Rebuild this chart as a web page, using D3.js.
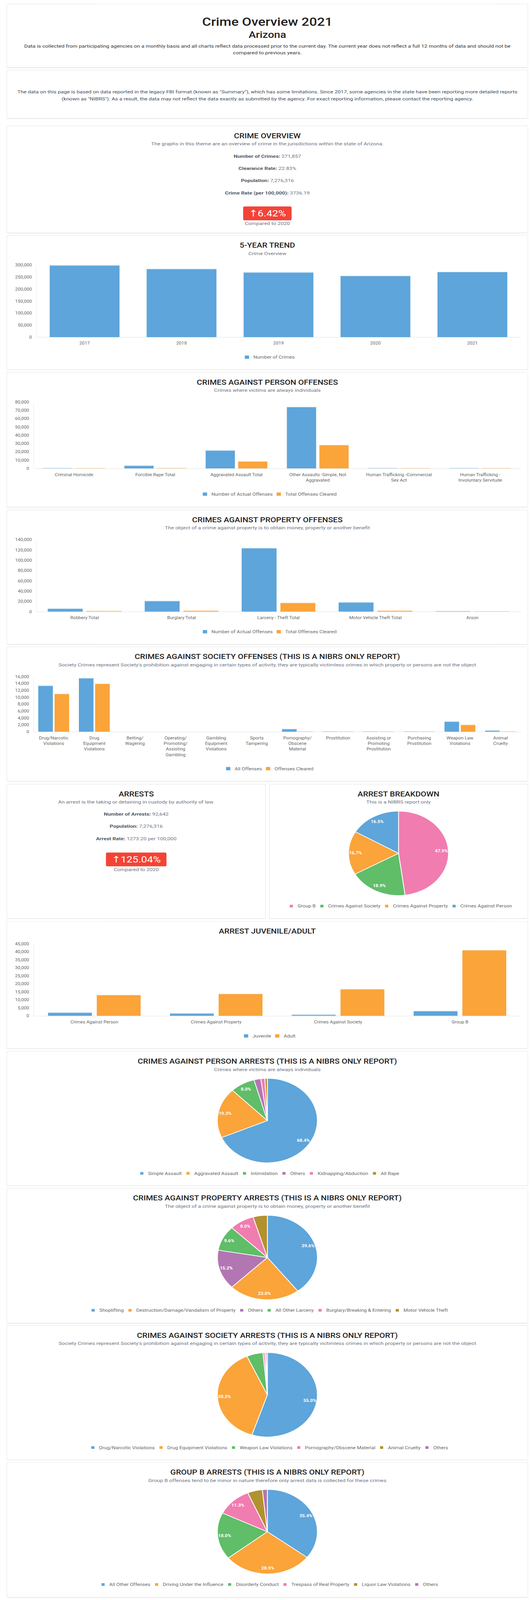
<!DOCTYPE html>
<html><head><meta charset="utf-8">
<script src="https://cdn.jsdelivr.net/npm/d3@7"></script>
<style>
html,body{margin:0;padding:0;background:#fff;overflow:hidden;}
#page{position:relative;width:1362px;height:4849px;overflow:hidden;font-family:Roboto,'Noto Sans','DejaVu Sans',sans-serif;transform-origin:0 0;}
.card{position:absolute;background:#fff;border-radius:2px;box-shadow:0 0 0 1px #e4e4e4,0 1px 2px rgba(0,0,0,0.13);}
.card svg{position:absolute;left:0;top:0;display:block;overflow:visible;}
</style></head><body>
<div id="page"></div>
<script>
// ---------------- DATA ----------------
const trendYears = ["2017","2018","2019","2020","2021"];
const trendCrimes = [299000, 284000, 269600, 255456, 271857];
const trendTicks = [0,50000,100000,150000,200000,250000,300000];

const personCats = [["Criminal Homicide"],["Forcible Rape Total"],["Aggravated Assault Total"],["Other Assaults -Simple, Not","Aggravated"],["Human Trafficking -Commercial","Sex Act"],["Human Trafficking -","Involuntary Servitude"]];
const personActual = [550, 3450, 21700, 74100, 60, 10];
const personCleared = [420, 650, 8600, 28300, 25, 4];
const personTicks = [0,10000,20000,30000,40000,50000,60000,70000,80000];

const propertyCats = [["Robbery Total"],["Burglary Total"],["Larceny - Theft Total"],["Motor Vehicle Theft Total"],["Arson"]];
const propertyActual = [6000, 20700, 123500, 18200, 850];
const propertyCleared = [1500, 2100, 17100, 2100, 350];
const propertyTicks = [0,20000,40000,60000,80000,100000,120000,140000];

const societyCats = [["Drug/Narcotic","Violations"],["Drug","Equipment","Violations"],["Betting/","Wagering"],["Operating/","Promoting/","Assisting","Gambling"],["Gambling","Equipment","Violations"],["Sports","Tampering"],["Pornography/","Obscene","Material"],["Prostitution"],["Assisting or","Promoting","Prostitution"],["Purchasing","Prostitution"],["Weapon Law","Violations"],["Animal","Cruelty"]];
const societyAll = [13350, 15550, 0, 0, 0, 0, 790, 40, 30, 45, 2960, 380];
const societyCleared = [11000, 13950, 0, 0, 0, 0, 130, 20, 15, 25, 2020, 150];
const societyTicks = [0,2000,4000,6000,8000,10000,12000,14000,16000];

const juvCats = [["Crimes Against Person"],["Crimes Against Property"],["Crimes Against Society"],["Group B"]];
const juvenileArrests = [2050, 1550, 750, 3000];
const adultArrests = [13100, 13800, 16700, 41100];
const juvTicks = [0,5000,10000,15000,20000,25000,30000,35000,40000,45000];

const breakdownLabels = ["Group B","Crimes Against Society","Crimes Against Property","Crimes Against Person"];
const breakdownPct = [47.9, 18.9, 16.7, 16.5];

const personArrestLabels = ["Simple Assault","Aggravated Assault","Intimidation","Others","Kidnapping/Abduction","All Rape"];
const personArrestPct = [68.4, 19.3, 8.0, 2.2, 1.3, 0.8];

const propertyArrestLabels = ["Shoplifting","Destruction/Damage/Vandalism of Property","Others","All Other Larceny","Burglary/Breaking & Entering","Motor Vehicle Theft"];
const propertyArrestPct = [39.6, 23.0, 15.2, 9.6, 8.0, 4.6];

const societyArrestLabels = ["Drug/Narcotic Violations","Drug Equipment Violations","Weapon Law Violations","Pornography/Obscene Material","Animal Cruelty","Others"];
const societyArrestPct = [55.0, 38.3, 5.3, 0.6, 0.4, 0.4];

const groupBLabels = ["All Other Offenses","Driving Under the Influence","Disorderly Conduct","Trespass of Real Property","Liquor Law Violations","Others"];
const groupBPct = [35.4, 28.9, 18.0, 11.3, 4.8, 1.6];

// ---------------- STYLE ----------------
const FONT = "Roboto, 'Noto Sans', 'DejaVu Sans', sans-serif";
const COL = {blue:"#5DA5DA", orange:"#FAA43A", green:"#60BD68", pink:"#F17CB0", purple:"#B276B2", olive:"#B2912F"};
const LIGHT = {blue:"#a6cdec", orange:"#fcd09c"};
const TITLE = "#212121", SUB = "#6b7384", AX = "#666";

const page = d3.select("#page");
// the window may be shorter than the 4849px layout: fit the whole page into it
const FULL_H = 4849;
const VIEW_H = (window.innerHeight && window.innerHeight > 1000) ? window.innerHeight : FULL_H;
const KY = Math.min(1, VIEW_H/FULL_H);
page.style("transform",`scaleY(${KY})`);
d3.select("body").style("height",(FULL_H*KY)+"px");

function makeCard(x,y,w,h){
  const div = page.append("div").attr("class","card")
    .style("left",x+"px").style("top",y+"px").style("width",w+"px").style("height",h+"px");
  const s = div.append("svg").attr("width",w).attr("height",h).attr("font-family",FONT);
  return s.append("g").attr("transform",`translate(${-x},${-y})`);
}
function txt(g,x,y,s,size,weight,fill,anchor){
  return g.append("text").attr("x",x).attr("y",y).attr("font-size",size).attr("font-weight",weight||400)
    .attr("fill",fill||"#333").attr("text-anchor",anchor||"middle").text(s);
}
function heading(g,cx,T,title,sub){
  txt(g,cx,T+36.5,title,21,500,TITLE);
  if(sub) txt(g,cx,T+58.5,sub,14,400,SUB);
}
function stat(g,cx,y,label,value){
  const t = g.append("text").attr("x",cx).attr("y",y).attr("text-anchor","middle").attr("font-size",14);
  t.append("tspan").attr("font-weight",700).attr("fill","#4f5864").text(label+":");
  t.append("tspan").attr("fill","#6c757d").text(" "+value);
}
function badge(g,cx,y,w,h,value){
  g.append("rect").attr("x",cx-w/2).attr("y",y).attr("width",w).attr("height",h).attr("rx",4).attr("fill","#f44336");
  txt(g,cx,y+h/2+9.5,"\u2191"+value,27,400,"#fff");
}
function legend(g0,cx,cy,items,box){
  const g = g0.append("g");
  const its = g.selectAll("g").data(items).join("g");
  its.append("rect").attr("x",0).attr("y",cy-box.h/2).attr("width",box.w).attr("height",box.h).attr("fill",d=>d.color);
  its.append("text").attr("x",box.w+box.gap).attr("y",cy+4.6).attr("font-size",13).attr("fill",AX).text(d=>d.name);
  const widths = [];
  its.each(function(){ widths.push(box.w+box.gap+d3.select(this).select("text").node().getComputedTextLength()); });
  const total = d3.sum(widths)+box.itemGap*(widths.length-1);
  let xx = cx-total/2;
  const pos = widths.map(w=>{ const p=xx; xx+=w+box.itemGap; return p; });
  its.attr("transform",(d,i)=>`translate(${pos[i]},0)`);
}
const BAR_BOX = {w:11,h:10,gap:11,itemGap:10};
const PIE_BOX = {w:8,h:8,gap:12,itemGap:12};

function barChart(g0,o){
  const T=o.T, g=g0.append("g");
  const top = T+(o.noSub?67.5:89.5);
  const nLines = d3.max(o.cats,c=>c.length);
  const bottom = T+(o.noSub?285.7:307.7)-(nLines-1)*17;
  const x = d3.scaleBand().domain(d3.range(o.cats.length)).range([o.axisX,1333]).padding(0);
  const bw = x.bandwidth();
  const xs = d3.scaleBand().domain(d3.range(o.series.length)).range([0.1*bw,0.9*bw]).paddingInner(0.1).paddingOuter(0.05);
  const y = d3.scaleLinear().domain([0,d3.max(o.ticks)]).range([bottom,top]);
  const ya = g.append("g").attr("transform",`translate(${o.axisX},0)`)
    .call(d3.axisLeft(y).tickValues(o.ticks).tickFormat(d3.format(",")).tickSizeInner(0).tickSizeOuter(0).tickPadding(11));
  ya.select(".domain").attr("stroke","#e8e8e8");
  ya.selectAll("text").attr("font-size",12).attr("font-family",FONT).attr("fill",AX);
  o.series.forEach((s,si)=>{
    g.append("g").selectAll("rect").data(s.values).join("rect")
      .attr("x",(d,i)=>x(i)+xs(si)).attr("width",xs.bandwidth())
      .attr("y",d=>y(d)).attr("height",d=>bottom-y(d)).attr("fill",COL[s.color]);
    g.append("g").selectAll("rect").data(s.values.map((v,i)=>[v,i]).filter(d=>d[0]>0)).join("rect")
      .attr("x",d=>x(d[1])+xs(si)).attr("width",xs.bandwidth())
      .attr("y",d=>Math.min(y(d[0]),bottom-1.5)).attr("height",1.5).attr("fill",LIGHT[s.color]);
  });
  const xa = g.append("g").attr("transform",`translate(0,${bottom})`)
    .call(d3.axisBottom(x).tickSize(0).tickFormat(()=>""));
  xa.select(".domain").attr("stroke","#e0e0e0");
  xa.selectAll(".tick text").remove();
  xa.selectAll(".tick").append("text").attr("fill",AX).attr("font-size",12).attr("font-family",FONT).attr("text-anchor","middle")
    .selectAll("tspan").data(i=>o.cats[i]).join("tspan").attr("x",0).attr("y",(d,j)=>23+j*17).text(d=>d);
  legend(g0, 690, T+(o.noSub?346.5:368.5), o.series.map(s=>({name:s.name,color:COL[s.color]})), BAR_BOX);
}

function pieChart(g0,o){
  const cx=o.cx, cy=o.T+209, r=128;
  const g = g0.append("g").attr("transform",`translate(${cx},${cy})`);
  const arcs = d3.pie().sort(null).value(d=>d)(o.values);
  const arc = d3.arc().innerRadius(0).outerRadius(r);
  const la = d3.arc().innerRadius(r*0.86).outerRadius(r*0.86);
  g.selectAll("path").data(arcs).join("path").attr("d",arc)
    .attr("fill",(d,i)=>COL[o.colors[i]]).attr("stroke","#fff").attr("stroke-width",2);
  g.selectAll("text").data(arcs.filter(d=>d.data>=6)).join("text")
    .attr("x",d=>la.centroid(d)[0]).attr("y",d=>la.centroid(d)[1]+4.2)
    .attr("text-anchor","middle").attr("font-size",12).attr("font-weight",700).attr("fill","#fff")
    .text(d=>d3.format(".1f")(d.data)+"%");
  legend(g0, cx+6, o.T+369, o.labels.map((n,i)=>({name:n,color:COL[o.colors[i]]})), PIE_BOX);
}

// ---------------- CARDS ----------------
const L=17.5, W=1333, CX=684;

let g = makeCard(L,13,W,191);
txt(g,CX,78.3,"Crime Overview 2021",35,500,TITLE);
txt(g,CX,115,"Arizona",28,500,TITLE);
txt(g,CX,144,"Data is collected from participating agencies on a monthly basis and all charts reflect data processed prior to the current day. The current year does not reflect a full 12 months of data and should not be",14,400,"#333");
txt(g,CX,165,"compared to previous years.",14,400,"#333");

g = makeCard(L,213,W,144.5);
txt(g,CX,283,"The data on this page is based on data reported in the legacy FBI format (known as \"Summary\"), which has some limitations. Since 2017, some agencies in the state have been reporting more detailed reports",14,400,"#3d4b5c");
txt(g,CX,304,"(known as \"NIBRS\"). As a result, the data may not reflect the data exactly as submitted by the agency. For exact reporting information, please contact the reporting agency.",14,400,"#3d4b5c");

g = makeCard(L,382.3,W,323);
heading(g,CX,382.3,"CRIME OVERVIEW","The graphs in this theme are an overview of crime in the jurisdictions within the state of Arizona.");
stat(g,CX,478.3,"Number of Crimes","271,857");
stat(g,CX,515.3,"Clearance Rate","22.83%");
stat(g,CX,552.3,"Population","7,276,316");
stat(g,CX,589.3,"Crime Rate (per 100,000)","3736.19");
badge(g,CX,626,124,42,"6.42%");
txt(g,CX,681.7,"Compared to 2020",14,400,"#6c757d");

g = makeCard(L,714.3,W,405.7);
heading(g,CX,714.3,"5-YEAR TREND","Crime Overview");
barChart(g,{T:714.3, axisX:92, cats:trendYears.map(d=>[d]), ticks:trendTicks,
  series:[{name:"Number of Crimes", values:trendCrimes, color:"blue"}]});

g = makeCard(L,1129.3,W,406.7);
heading(g,CX,1129.3,"CRIMES AGAINST PERSON OFFENSES","Crimes where victims are always individuals");
barChart(g,{T:1129.3, axisX:85, cats:personCats, ticks:personTicks,
  series:[{name:"Number of Actual Offenses", values:personActual, color:"blue"},{name:"Total Offenses Cleared", values:personCleared, color:"orange"}]});

g = makeCard(L,1545.7,W,406.6);
heading(g,CX,1545.7,"CRIMES AGAINST PROPERTY OFFENSES","The object of a crime against property is to obtain money, property or another benefit");
barChart(g,{T:1545.7, axisX:92, cats:propertyCats, ticks:propertyTicks,
  series:[{name:"Number of Actual Offenses", values:propertyActual, color:"blue"},{name:"Total Offenses Cleared", values:propertyCleared, color:"orange"}]});

g = makeCard(L,1961,W,406.3);
heading(g,CX,1961,"CRIMES AGAINST SOCIETY OFFENSES (THIS IS A NIBRS ONLY REPORT)","Society Crimes represent Society's prohibition against engaging in certain types of activity, they are typically victimless crimes in which property or persons are not the object");
barChart(g,{T:1961, axisX:85, cats:societyCats, ticks:societyTicks,
  series:[{name:"All Offenses", values:societyAll, color:"blue"},{name:"Offenses Cleared", values:societyCleared, color:"orange"}]});

const ACX = 348.25, BCX = 1020.25;
g = makeCard(L,2376.7,661.5,406);
heading(g,ACX,2376.7,"ARRESTS","An arrest is the taking or detaining in custody by authority of law.");
stat(g,ACX,2471.7,"Number of Arrests","92,642");
stat(g,ACX,2508.7,"Population","7,276,316");
stat(g,ACX,2545.7,"Arrest Rate","1273.20 per 100,000");
badge(g,ACX,2583.3,155,42,"125.04%");
txt(g,ACX,2640,"Compared to 2020",14,400,"#6c757d");

g = makeCard(690,2376.7,660.5,406);
heading(g,BCX,2376.7,"ARREST BREAKDOWN","This is a NIBRS report only");
pieChart(g,{T:2376.7, cx:BCX, labels:breakdownLabels, values:breakdownPct, colors:["pink","green","orange","blue"]});

g = makeCard(L,2792.7,W,384);
heading(g,CX,2792.7,"ARREST JUVENILE/ADULT",null);
barChart(g,{T:2792.7, noSub:true, axisX:85, cats:juvCats, ticks:juvTicks,
  series:[{name:"Juvenile", values:juvenileArrests, color:"blue"},{name:"Adult", values:adultArrests, color:"orange"}]});

g = makeCard(L,3186.7,W,406.6);
heading(g,CX,3186.7,"CRIMES AGAINST PERSON ARRESTS (THIS IS A NIBRS ONLY REPORT)","Crimes where victims are always individuals");
pieChart(g,{T:3186.7, cx:CX, labels:personArrestLabels, values:personArrestPct, colors:["blue","orange","green","purple","pink","olive"]});

g = makeCard(L,3602.3,W,406.7);
heading(g,CX,3602.3,"CRIMES AGAINST PROPERTY ARRESTS (THIS IS A NIBRS ONLY REPORT)","The object of a crime against property is to obtain money, property or another benefit");
pieChart(g,{T:3602.3, cx:CX, labels:propertyArrestLabels, values:propertyArrestPct, colors:["blue","orange","purple","green","pink","olive"]});

g = makeCard(L,4018.3,W,405.7);
heading(g,CX,4018.3,"CRIMES AGAINST SOCIETY ARRESTS (THIS IS A NIBRS ONLY REPORT)","Society Crimes represent Society's prohibition against engaging in certain types of activity, they are typically victimless crimes in which property or persons are not the object");
pieChart(g,{T:4018.3, cx:CX, labels:societyArrestLabels, values:societyArrestPct, colors:["blue","orange","green","pink","olive","purple"]});

g = makeCard(L,4433.3,W,406.7);
heading(g,CX,4433.3,"GROUP B ARRESTS (THIS IS A NIBRS ONLY REPORT)","Group B offenses tend to be minor in nature therefore only arrest data is collected for these crimes");
pieChart(g,{T:4433.3, cx:CX, labels:groupBLabels, values:groupBPct, colors:["blue","orange","green","pink","olive","purple"]});
</script>
</body></html>
